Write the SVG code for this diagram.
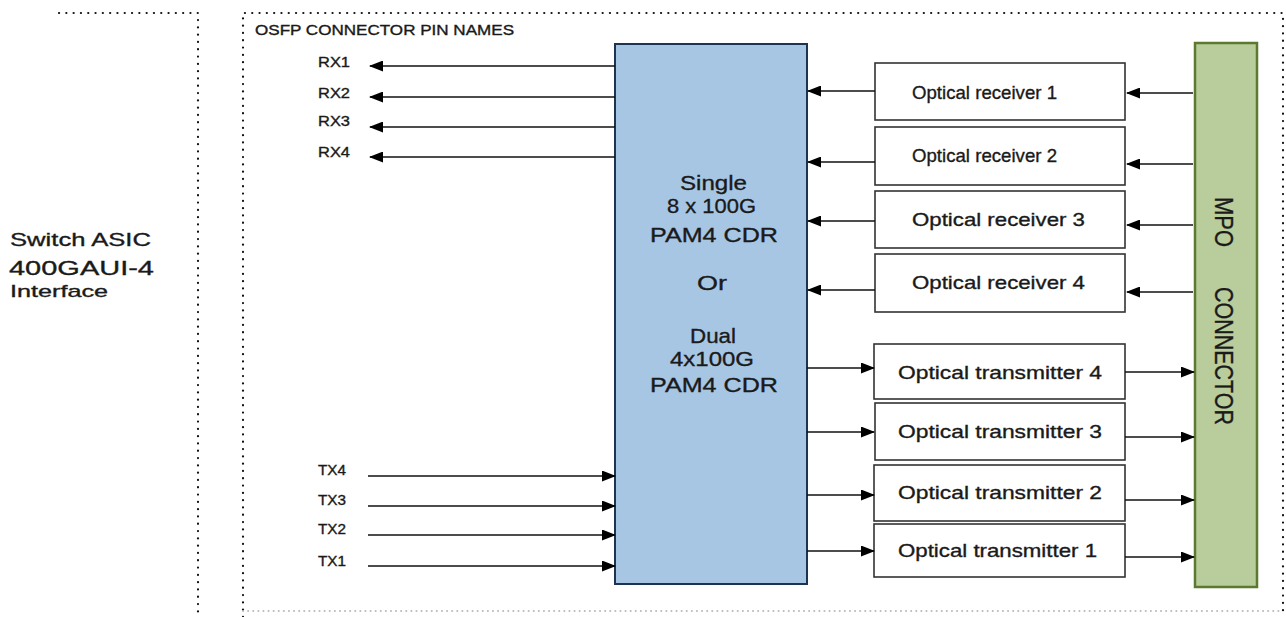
<svg xmlns="http://www.w3.org/2000/svg" width="1286" height="617" viewBox="0 0 1286 617">
<defs>
<marker id="ah" markerWidth="14" markerHeight="11" refX="13" refY="5.5" orient="auto" markerUnits="userSpaceOnUse">
<path d="M0,0 L14,5.5 L0,11 Z" fill="#000"/>
</marker>
<style>
.t{font-family:"Liberation Sans",Arial,sans-serif;fill:#1a1a1a;stroke:#1a1a1a;stroke-width:0.35}
.dot{fill:none;stroke:#111;stroke-width:2.2;stroke-dasharray:0.1 7.2;stroke-linecap:round}
.dotl{fill:none;stroke:#bbb;stroke-width:2;stroke-dasharray:0.1 5;stroke-linecap:round}
.box{fill:#fff;stroke:#333;stroke-width:1.6}
.c{stroke:#111;stroke-width:1.6;fill:none;marker-end:url(#ah)}
.lbl{font-size:14px}
.opt{font-size:19px}
.cdr{font-size:21px}
</style>
</defs>
<rect width="1286" height="617" fill="#fff"/>
<g id="frames">
<path class="dot" d="M59,13 H198 V617"/>
<path class="dot" d="M243,617 V13 H1283 V617"/>
<path class="dotl" d="M243,611 H1283"/>
</g>
<g id="asic">
<text class="t" x="10" y="246" font-size="19" textLength="141" lengthAdjust="spacingAndGlyphs">Switch ASIC</text>
<text class="t" x="9" y="275" font-size="21" textLength="145" lengthAdjust="spacingAndGlyphs">400GAUI-4</text>
<text class="t" x="10" y="297" font-size="17" textLength="98" lengthAdjust="spacingAndGlyphs">Interface</text>
</g>
<text class="t" x="255" y="35" font-size="14" textLength="259" lengthAdjust="spacingAndGlyphs" stroke-width="0.2">OSFP CONNECTOR PIN NAMES</text>
<g id="cdr">
<rect x="615" y="44" width="192" height="540" fill="#a7c6e3" stroke="#1c3450" stroke-width="2"/>
<text class="t cdr" x="680" y="190" textLength="67" lengthAdjust="spacingAndGlyphs">Single</text>
<text class="t cdr" x="667" y="213" textLength="89" lengthAdjust="spacingAndGlyphs">8 x 100G</text>
<text class="t cdr" x="650" y="242" textLength="128" lengthAdjust="spacingAndGlyphs">PAM4 CDR</text>
<text class="t cdr" x="697" y="290" textLength="30" lengthAdjust="spacingAndGlyphs">Or</text>
<text class="t cdr" x="690" y="343" textLength="46" lengthAdjust="spacingAndGlyphs">Dual</text>
<text class="t cdr" x="670" y="366" textLength="84" lengthAdjust="spacingAndGlyphs">4x100G</text>
<text class="t cdr" x="650" y="392" textLength="128" lengthAdjust="spacingAndGlyphs">PAM4 CDR</text>
</g>
<g id="mpo">
<rect x="1195" y="43" width="62" height="544" fill="#b9cc9b" stroke="#5b7a2f" stroke-width="2.5"/>
<text class="t" font-size="26" transform="translate(1215,197) rotate(90)" textLength="50" lengthAdjust="spacingAndGlyphs">MPO</text>
<text class="t" font-size="26" transform="translate(1215,287) rotate(90)" textLength="138" lengthAdjust="spacingAndGlyphs">CONNECTOR</text>
</g>
<g id="receivers">
<rect class="box" x="875" y="63" width="250" height="57"/>
<text class="t opt" x="912" y="99" textLength="145" lengthAdjust="spacingAndGlyphs">Optical receiver 1</text>
<rect class="box" x="875" y="127" width="250" height="58"/>
<text class="t opt" x="912" y="162" textLength="145" lengthAdjust="spacingAndGlyphs">Optical receiver 2</text>
<rect class="box" x="875" y="191" width="250" height="57"/>
<text class="t opt" x="912" y="226" textLength="173" lengthAdjust="spacingAndGlyphs">Optical receiver 3</text>
<rect class="box" x="875" y="254" width="250" height="58"/>
<text class="t opt" x="912" y="289" textLength="173" lengthAdjust="spacingAndGlyphs">Optical receiver 4</text>
</g>
<g id="transmitters">
<rect class="box" x="874" y="344" width="251" height="55"/>
<text class="t opt" x="898" y="379" textLength="204" lengthAdjust="spacingAndGlyphs">Optical transmitter 4</text>
<rect class="box" x="875" y="403" width="250" height="57"/>
<text class="t opt" x="898" y="438" textLength="204" lengthAdjust="spacingAndGlyphs">Optical transmitter 3</text>
<rect class="box" x="874" y="465" width="251" height="56"/>
<text class="t opt" x="898" y="499" textLength="204" lengthAdjust="spacingAndGlyphs">Optical transmitter 2</text>
<rect class="box" x="874" y="524" width="251" height="53"/>
<text class="t opt" x="898" y="557" textLength="199" lengthAdjust="spacingAndGlyphs">Optical transmitter 1</text>
</g>
<g id="pins">
<text class="t lbl" x="318" y="67" textLength="32" lengthAdjust="spacingAndGlyphs">RX1</text>
<text class="t lbl" x="318" y="98" textLength="32" lengthAdjust="spacingAndGlyphs">RX2</text>
<text class="t lbl" x="318" y="126" textLength="32" lengthAdjust="spacingAndGlyphs">RX3</text>
<text class="t lbl" x="318" y="157" textLength="32" lengthAdjust="spacingAndGlyphs">RX4</text>
<text class="t lbl" x="318" y="475" textLength="28" lengthAdjust="spacingAndGlyphs">TX4</text>
<text class="t lbl" x="318" y="505" textLength="28" lengthAdjust="spacingAndGlyphs">TX3</text>
<text class="t lbl" x="318" y="534" textLength="28" lengthAdjust="spacingAndGlyphs">TX2</text>
<text class="t lbl" x="318" y="566" textLength="28" lengthAdjust="spacingAndGlyphs">TX1</text>
</g>
<g id="connectors">
<path class="c" d="M615,66 H370"/>
<path class="c" d="M615,97 H370"/>
<path class="c" d="M615,127 H370"/>
<path class="c" d="M615,157 H370"/>
<path class="c" d="M368,476 H615"/>
<path class="c" d="M368,506 H615"/>
<path class="c" d="M368,535 H615"/>
<path class="c" d="M368,566 H615"/>
<path class="c" d="M875,91 H808"/>
<path class="c" d="M875,162 H808"/>
<path class="c" d="M875,221 H808"/>
<path class="c" d="M875,290 H808"/>
<path class="c" d="M1193,93 H1127"/>
<path class="c" d="M1193,164 H1127"/>
<path class="c" d="M1193,225 H1127"/>
<path class="c" d="M1193,292 H1127"/>
<path class="c" d="M807,368 H874"/>
<path class="c" d="M807,432 H874"/>
<path class="c" d="M807,495 H874"/>
<path class="c" d="M807,551 H874"/>
<path class="c" d="M1125,372 H1194"/>
<path class="c" d="M1125,437 H1194"/>
<path class="c" d="M1125,500 H1194"/>
<path class="c" d="M1125,557 H1194"/>
</g>
</svg>
